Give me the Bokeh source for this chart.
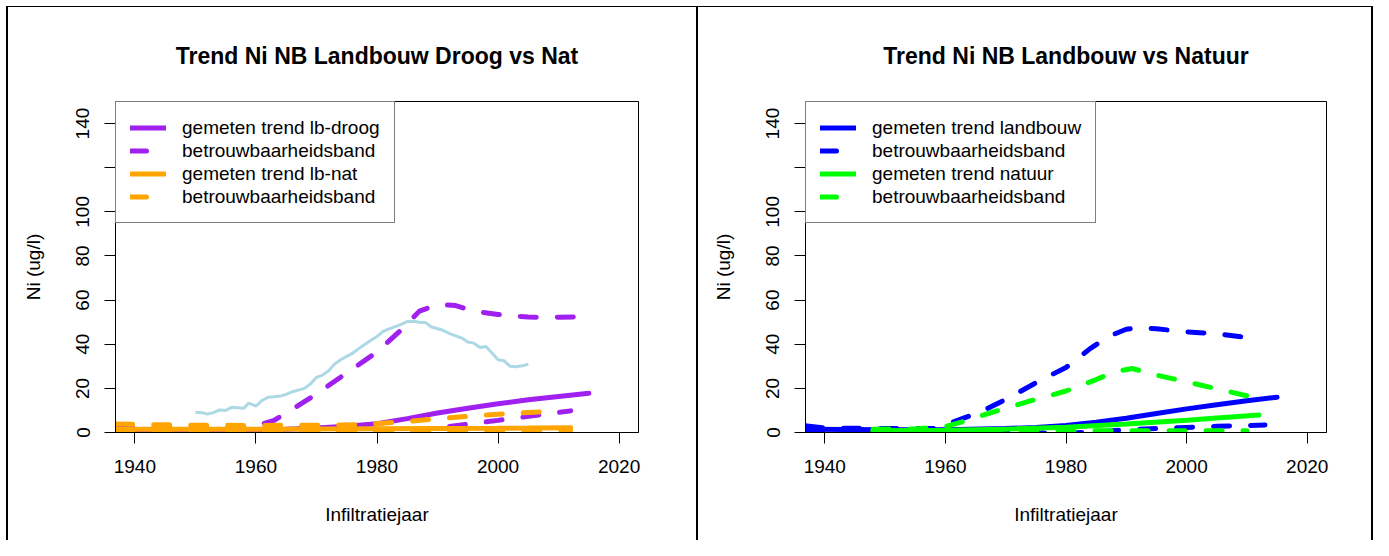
from bokeh.plotting import figure
from bokeh.layouts import row, column
from bokeh.models import Legend, LegendItem, FixedTicker, Range1d, Spacer
from bokeh.embed import file_html
from bokeh.resources import INLINE

# ---------------- data: left panel (Landbouw droog vs nat) ----------------
meas_years = [1950, 1951, 1952, 1953, 1954, 1955, 1956, 1957, 1958, 1958.8, 1960, 1961,
              1962, 1963, 1964, 1965, 1966, 1967, 1968, 1969, 1970, 1971, 1972, 1973,
              1974, 1975, 1976, 1977, 1978, 1979, 1980, 1981, 1982, 1983, 1984, 1985,
              1986, 1987, 1988, 1989, 1990, 1991, 1992, 1993, 1994, 1995, 1996, 1997,
              1998, 1999, 2000, 2001, 2002, 2003, 2004, 2005]
meas_values = [9.2, 9.0, 8.4, 9.0, 10.2, 10.0, 11.4, 11.2, 11.0, 13.3, 12.0, 14.5,
               16.0, 16.2, 16.5, 17.3, 18.5, 19.2, 20.0, 22.0, 25.0, 26.0, 28.0, 31.0,
               33.0, 34.5, 36.0, 38.0, 40.0, 41.8, 43.5, 45.8, 47.0, 48.0, 49.0, 50.3,
               50.4, 50.0, 49.8, 47.8, 47.0, 46.2, 44.8, 43.8, 42.8, 41.0, 40.5, 38.5,
               39.0, 36.0, 33.0, 32.5, 30.0, 29.8, 30.2, 31.0]

droog_years = [1937, 1945, 1955, 1960, 1965, 1970, 1975, 1980, 1985, 1990, 1995, 2000, 2005, 2010, 2015]
droog_trend = [1.0, 1.0, 1.1, 1.2, 1.5, 2.0, 2.8, 4.0, 6.3, 8.8, 11.0, 13.0, 14.8, 16.3, 17.8]
droog_upper_years = [1937, 1945, 1955, 1960, 1963, 1966, 1970, 1975, 1980, 1984, 1987, 1990,
                     1993, 1996, 2000, 2005, 2010, 2014]
droog_upper = [2.0, 2.0, 2.2, 3.0, 5.5, 10.5, 17.5, 27.0, 36.5, 46.5, 55.0, 58.0,
               57.5, 55.0, 53.5, 52.3, 52.2, 52.5]
droog_lower_years = [1937, 1960, 1975, 1985, 1990, 1995, 2000, 2005, 2012]
droog_lower = [0.3, 0.3, 0.3, 0.8, 2.0, 3.8, 5.5, 7.3, 9.8]

nat_years = [1937, 1950, 1960, 1970, 1980, 1990, 2000, 2005, 2012]
nat_trend = [1.5, 1.5, 1.5, 1.6, 1.7, 1.8, 1.9, 2.0, 2.2]
nat_upper_years = [1937, 1950, 1960, 1970, 1978, 1985, 1990, 1995, 2000, 2008]
nat_upper = [3.8, 3.3, 3.2, 3.3, 3.6, 5.0, 6.2, 7.3, 8.3, 9.5]
nat_lower_years = [1937, 1960, 1980, 2000, 2012]
nat_lower = [0.5, 0.5, 0.6, 0.8, 1.0]

# ---------------- data: right panel (Landbouw vs Natuur) ----------------
lb_years = [1937, 1950, 1960, 1970, 1975, 1980, 1985, 1990, 1995, 2000, 2005, 2010, 2015]
lb_trend = [1.5, 1.2, 1.3, 1.8, 2.3, 3.2, 4.7, 6.5, 8.6, 10.7, 12.6, 14.4, 16.0]
lb_upper_years = [1937, 1940, 1950, 1958, 1960, 1963, 1966, 1970, 1975, 1980, 1984, 1987,
                  1990, 1992, 1995, 2000, 2005, 2010]
lb_upper = [3.0, 2.0, 1.8, 1.8, 3.5, 6.5, 9.5, 15.0, 22.5, 29.5, 38.0, 43.5,
            46.8, 47.5, 47.0, 45.6, 44.8, 43.0]
lb_lower_years = [1937, 1950, 1960, 1970, 1980, 1985, 1990, 1995, 2000, 2005, 2013]
lb_lower = [0.3, 0.3, 0.2, 0.0, -0.3, 0.3, 1.2, 1.8, 2.3, 2.8, 3.4]

natuur_years = [1948, 1960, 1970, 1980, 1990, 2000, 2005, 2012]
natuur_trend = [0.8, 1.0, 1.5, 2.4, 3.9, 5.6, 6.6, 7.9]
natuur_upper_years = [1948, 1955, 1960, 1963, 1967, 1970, 1975, 1980, 1985, 1988, 1991,
                      1995, 2000, 2005, 2011]
natuur_upper = [1.5, 1.6, 2.7, 5.0, 8.5, 11.0, 15.0, 18.8, 24.0, 27.5, 29.0,
                26.0, 23.0, 19.8, 16.0]
natuur_lower_years = [1948, 1960, 1970, 1980, 1990, 2000, 2010]
natuur_lower = [0.8, 0.8, 0.8, 0.8, 0.8, 0.8, 0.8]

x_ticks = [1940, 1960, 1980, 2000, 2020]
y_ticks = [0, 20, 40, 60, 80, 100, 120, 140]

titles = ["Trend Ni NB Landbouw Droog vs Nat", "Trend Ni NB Landbouw vs Natuur"]
x_label = "Infiltratiejaar"
y_label = "Ni (ug/l)"

FONT = "Liberation Sans"
FS = "19px"
DASH = "16 21"
LW = 5


def make_fig(title, width, border_left, border_right, css):
    p = figure(width=width, height=534, output_backend="svg", toolbar_location=None,
               x_range=Range1d(1936.8, 2023.2), y_range=Range1d(0, 150),
               min_border_left=border_left, min_border_right=border_right,
               min_border_top=94, min_border_bottom=109)
    p.styles = css
    p.grid.visible = False
    p.outline_line_color = "black"
    p.outline_line_width = 1
    p.background_fill_color = "white"
    p.border_fill_color = "white"

    p.title.text = title
    p.title.align = "center"
    p.title.text_font = FONT
    p.title.text_font_size = "23px"
    p.title.text_font_style = "bold"
    p.title.text_color = "black"
    p.title.standoff = 66

    for ax in (p.xaxis[0], p.yaxis[0]):
        ax.axis_line_color = "black"
        ax.major_tick_line_color = "black"
        ax.major_tick_out = 11
        ax.major_tick_in = 0
        ax.minor_tick_line_color = None
        ax.major_label_text_font = FONT
        ax.major_label_text_font_size = FS
        ax.major_label_text_color = "black"
        ax.axis_label_text_font = FONT
        ax.axis_label_text_font_size = FS
        ax.axis_label_text_font_style = "normal"
        ax.axis_label_text_color = "black"

    p.xaxis[0].ticker = FixedTicker(ticks=x_ticks)
    p.xaxis[0].axis_label = x_label
    p.xaxis[0].major_label_standoff = 16
    p.xaxis[0].axis_label_standoff = 28

    p.yaxis[0].ticker = FixedTicker(ticks=y_ticks)
    p.yaxis[0].major_label_overrides = {120: ""}
    p.yaxis[0].major_label_orientation = "vertical"
    p.yaxis[0].axis_label = y_label
    p.yaxis[0].major_label_standoff = 15
    p.yaxis[0].axis_label_standoff = 30
    return p


def add_legend(p, items):
    leg = Legend(items=items, location="top_left", margin=0, padding=14,
                 spacing=0, glyph_width=36, glyph_height=23, label_height=23,
                 label_standoff=16, label_text_font=FONT, label_text_font_size=FS,
                 label_text_color="black", border_line_color="black",
                 border_line_width=1, background_fill_alpha=1.0)
    p.add_layout(leg)


# ---------- left figure ----------
p1 = make_fig(titles[0], 692, 107, 62,
              {"border-left": "2px solid black", "border-top": "1px solid black",
               "border-right": "2px solid black"})
p1.line(meas_years, meas_values, color="#ADD8E6", line_width=3)
r_dt = p1.line(droog_years, droog_trend, color="#A020F0", line_width=LW, line_cap="round")
r_du = p1.line(droog_upper_years, droog_upper, color="#A020F0", line_width=LW,
               line_dash=DASH, line_cap="round")
p1.line(droog_lower_years, droog_lower, color="#A020F0", line_width=LW,
        line_dash=DASH, line_cap="round")
r_nt = p1.line(nat_years, nat_trend, color="#FFA500", line_width=LW, line_cap="round")
r_nu = p1.line(nat_upper_years, nat_upper, color="#FFA500", line_width=LW,
               line_dash=DASH, line_cap="round")
p1.line(nat_lower_years, nat_lower, color="#FFA500", line_width=LW,
        line_dash=DASH, line_cap="round")
add_legend(p1, [
    LegendItem(label="gemeten trend lb-droog", renderers=[r_dt]),
    LegendItem(label="betrouwbaarheidsband", renderers=[r_du]),
    LegendItem(label="gemeten trend lb-nat", renderers=[r_nt]),
    LegendItem(label="betrouwbaarheidsband", renderers=[r_nu]),
])

# ---------- right figure ----------
p2 = make_fig(titles[1], 675, 107, 47,
              {"border-top": "1px solid black", "border-right": "2px solid black"})
r_lt = p2.line(lb_years, lb_trend, color="#0000FF", line_width=LW, line_cap="round")
r_lu = p2.line(lb_upper_years, lb_upper, color="#0000FF", line_width=LW,
               line_dash=DASH, line_cap="round")
p2.line(lb_lower_years, lb_lower, color="#0000FF", line_width=LW,
        line_dash=DASH, line_cap="round")
r_gt = p2.line(natuur_years, natuur_trend, color="#00FF00", line_width=LW, line_cap="round")
r_gu = p2.line(natuur_upper_years, natuur_upper, color="#00FF00", line_width=LW,
               line_dash=DASH, line_cap="round")
p2.line(natuur_lower_years, natuur_lower, color="#00FF00", line_width=LW,
        line_dash=DASH, line_cap="round")
add_legend(p2, [
    LegendItem(label="gemeten trend landbouw", renderers=[r_lt]),
    LegendItem(label="betrouwbaarheidsband", renderers=[r_lu]),
    LegendItem(label="gemeten trend natuur", renderers=[r_gt]),
    LegendItem(label="betrouwbaarheidsband", renderers=[r_gu]),
])

layout = column(Spacer(width=1373, height=6),
                row(Spacer(width=6, height=534), p1, p2, spacing=0),
                spacing=0)
open("out.html", "w").write(file_html(layout, INLINE))
